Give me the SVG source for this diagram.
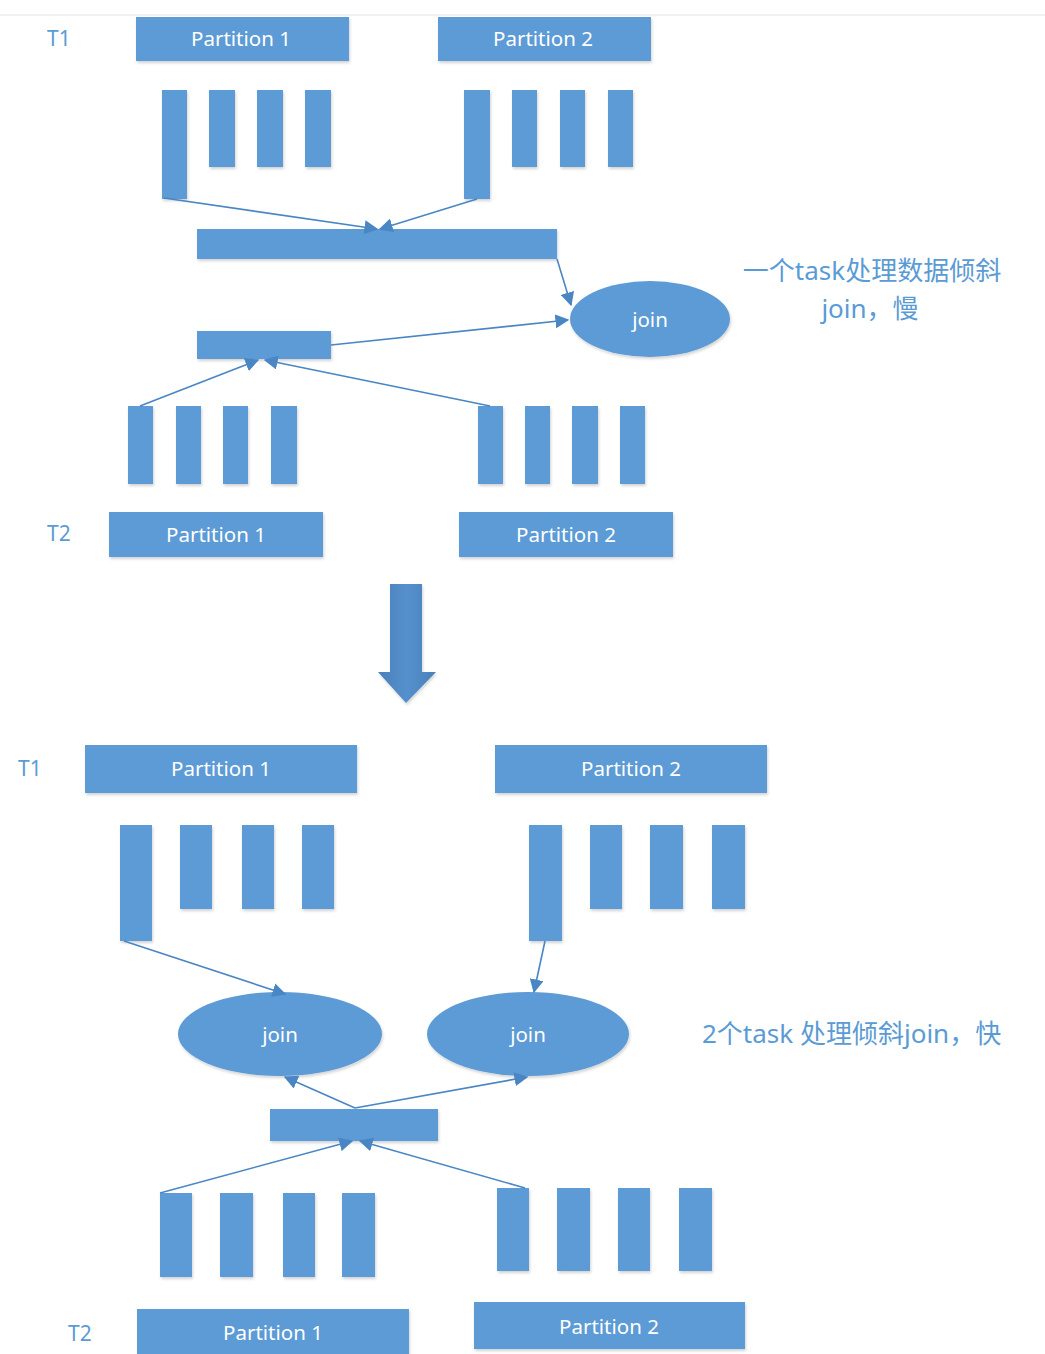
<svg xmlns="http://www.w3.org/2000/svg" width="1045" height="1354" viewBox="0 0 1045 1354">
<style>
.b{fill:#5b9bd5;filter:url(#sh)}
.t{font-family:"Noto Sans","Noto Sans CJK SC",sans-serif;fill:#fff;font-size:20.5px;text-anchor:middle;dominant-baseline:central}
.lb{font-family:"Noto Sans","Noto Sans CJK SC",sans-serif;fill:#5b9bd5;font-size:21px;dominant-baseline:central}
.cn{font-size:26px}
.c{stroke:#4a86c4;stroke-width:1.6;fill:none;marker-end:url(#ah)}
</style>
<defs>
<filter id="sh" x="-10%" y="-10%" width="130%" height="140%">
<feGaussianBlur in="SourceAlpha" stdDeviation="1.5"/>
<feOffset dx="1" dy="2" result="o"/>
<feComponentTransfer><feFuncA type="linear" slope="0.18"/></feComponentTransfer>
<feMerge><feMergeNode/><feMergeNode in="SourceGraphic"/></feMerge>
</filter>
<marker id="ah" viewBox="0 0 10 10" refX="9" refY="5" markerWidth="14" markerHeight="14" markerUnits="userSpaceOnUse" orient="auto">
<path d="M0,0 L10,5 L0,10 Z" fill="#4a86c4"/>
</marker>
<linearGradient id="ag" x1="0" y1="0" x2="1" y2="0">
<stop offset="0" stop-color="#4a80ba"/><stop offset="0.5" stop-color="#5590cc"/><stop offset="1" stop-color="#4a80ba"/>
</linearGradient>
</defs>
<rect width="1045" height="1354" fill="#fff"/>
<line x1="0" y1="15" x2="1045" y2="15" stroke="#e4e4e4" stroke-width="1"/>

<g id="top-labels">
<text class="lb" x="47" y="38">T1</text>
<text class="lb" x="47" y="533">T2</text>
<text class="lb cn" x="872" y="270" text-anchor="middle">一个task处理数据倾斜</text>
<text class="lb cn" x="870" y="308" text-anchor="middle">join，慢</text>
</g>

<g id="top-t1-p1"><rect class="b" x="136" y="17" width="213" height="44"/><text class="t" x="241" y="38">Partition 1</text></g>
<g id="top-t1-p2"><rect class="b" x="438" y="17" width="213" height="44"/><text class="t" x="543" y="38">Partition 2</text></g>
<g id="top-t1-bars">
<rect class="b" x="162" y="90" width="25" height="109"/>
<rect class="b" x="209" y="90" width="26" height="77"/>
<rect class="b" x="257" y="90" width="26" height="77"/>
<rect class="b" x="305" y="90" width="26" height="77"/>
<rect class="b" x="464" y="90" width="26" height="109"/>
<rect class="b" x="512" y="90" width="25" height="77"/>
<rect class="b" x="560" y="90" width="25" height="77"/>
<rect class="b" x="608" y="90" width="25" height="77"/>
</g>
<g id="top-wide"><rect class="b" x="197" y="229" width="360" height="30"/></g>
<g id="top-join"><ellipse class="b" cx="650" cy="319" rx="80" ry="38"/><text class="t" x="650" y="319">join</text></g>
<g id="top-small"><rect class="b" x="197" y="331" width="134" height="28"/></g>
<g id="top-t2-bars">
<rect class="b" x="128" y="406" width="25" height="78"/>
<rect class="b" x="176" y="406" width="25" height="78"/>
<rect class="b" x="223" y="406" width="25" height="78"/>
<rect class="b" x="271" y="406" width="26" height="78"/>
<rect class="b" x="478" y="406" width="25" height="78"/>
<rect class="b" x="525" y="406" width="25" height="78"/>
<rect class="b" x="572" y="406" width="26" height="78"/>
<rect class="b" x="620" y="406" width="25" height="78"/>
</g>
<g id="top-t2-p1"><rect class="b" x="109" y="512" width="214" height="45"/><text class="t" x="216" y="534">Partition 1</text></g>
<g id="top-t2-p2"><rect class="b" x="459" y="512" width="214" height="45"/><text class="t" x="566" y="534">Partition 2</text></g>

<g id="big-arrow"><path d="M390,584 H422 V672 H436 L406,703 L378,672 H390 Z" fill="url(#ag)" filter="url(#sh)"/></g>

<g id="bottom-labels">
<text class="lb" x="18" y="768">T1</text>
<text class="lb" x="68" y="1333">T2</text>
<text class="lb cn" x="702" y="1033">2个task 处理倾斜join，快</text>
</g>
<g id="bot-t1-p1"><rect class="b" x="85" y="745" width="272" height="48"/><text class="t" x="221" y="768">Partition 1</text></g>
<g id="bot-t1-p2"><rect class="b" x="495" y="745" width="272" height="48"/><text class="t" x="631" y="768">Partition 2</text></g>
<g id="bot-t1-bars">
<rect class="b" x="120" y="825" width="32" height="116"/>
<rect class="b" x="180" y="825" width="32" height="84"/>
<rect class="b" x="242" y="825" width="32" height="84"/>
<rect class="b" x="302" y="825" width="32" height="84"/>
<rect class="b" x="529" y="825" width="33" height="116"/>
<rect class="b" x="590" y="825" width="32" height="84"/>
<rect class="b" x="650" y="825" width="33" height="84"/>
<rect class="b" x="712" y="825" width="33" height="84"/>
</g>
<g id="bot-join1"><ellipse class="b" cx="280" cy="1034" rx="102" ry="42"/><text class="t" x="280" y="1034">join</text></g>
<g id="bot-join2"><ellipse class="b" cx="528" cy="1034" rx="101" ry="42"/><text class="t" x="528" y="1034">join</text></g>
<g id="bot-small"><rect class="b" x="270" y="1109" width="168" height="32"/></g>
<g id="bot-t2-bars">
<rect class="b" x="160" y="1193" width="32" height="84"/>
<rect class="b" x="220" y="1193" width="33" height="84"/>
<rect class="b" x="283" y="1193" width="32" height="84"/>
<rect class="b" x="342" y="1193" width="33" height="84"/>
<rect class="b" x="497" y="1188" width="32" height="83"/>
<rect class="b" x="557" y="1188" width="33" height="83"/>
<rect class="b" x="618" y="1188" width="32" height="83"/>
<rect class="b" x="679" y="1188" width="33" height="83"/>
</g>
<g id="bot-t2-p1"><rect class="b" x="137" y="1309" width="272" height="48"/><text class="t" x="273" y="1332">Partition 1</text></g>
<g id="bot-t2-p2"><rect class="b" x="474" y="1302" width="271" height="47"/><text class="t" x="609" y="1326">Partition 2</text></g>

<g id="connectors">
<line class="c" x1="164" y1="198" x2="377" y2="229"/>
<line class="c" x1="477" y1="199" x2="380" y2="229"/>
<line class="c" x1="557" y1="259" x2="571" y2="305"/>
<line class="c" x1="331" y1="345" x2="568" y2="320"/>
<line class="c" x1="140" y1="406" x2="258" y2="360"/>
<line class="c" x1="490" y1="406" x2="265" y2="360"/>
<line class="c" x1="124" y1="941" x2="285" y2="994"/>
<line class="c" x1="545" y1="941" x2="534" y2="992"/>
<line class="c" x1="355" y1="1108" x2="285" y2="1077"/>
<line class="c" x1="355" y1="1108" x2="527" y2="1077"/>
<line class="c" x1="160" y1="1193" x2="352" y2="1141"/>
<line class="c" x1="525" y1="1188" x2="360" y2="1141"/>
</g>
</svg>
